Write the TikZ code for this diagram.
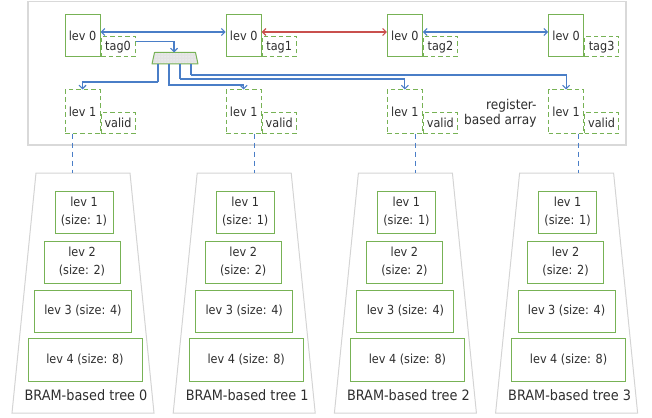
\documentclass[tikz,border=0pt]{standalone}
\usepackage{fontspec}
\setmainfont{DejaVu Sans Condensed}
\usetikzlibrary{arrows.meta,calc,patterns}

\definecolor{boxgreen}{HTML}{77B255}
\definecolor{linkblue}{HTML}{4A7EC7}
\definecolor{linkred}{HTML}{C9504D}
\definecolor{framegray}{HTML}{D9D9D9}
\definecolor{treegray}{HTML}{D4D4D4}
\definecolor{txt}{HTML}{2E2E2E}

\tikzset{
  barb/.tip={Straight Barb[length=3.5pt,width=7pt]},
  lbl/.style={font=\fontsize{12.5}{18}\selectfont, text=txt},
  biglbl/.style={font=\fontsize{14.3}{15}\selectfont, text=txt},
  solidbox/.style={draw=boxgreen, line width=1pt, inner sep=0pt, align=center, lbl},
  dashbox/.style={draw=boxgreen, line width=1pt, dash pattern=on 4.5pt off 3pt, inner sep=0pt, lbl},
  lvzero/.style={solidbox, minimum width=35pt, minimum height=42pt},
  lvone/.style={dashbox, minimum width=35pt, minimum height=43pt},
  flag/.style={dashbox, minimum width=34pt, minimum height=20.5pt, anchor=south west},
  bluelink/.style={draw=linkblue, line width=1.1pt},
  redlink/.style={draw=linkred, line width=1.1pt},
  stub/.style={draw=linkblue, line width=2.2pt},
  droplink/.style={draw=linkblue, line width=1pt, dash pattern=on 5pt off 4pt},
  treeshape/.style={draw=treegray, line width=1pt},
}

\begin{document}
\begin{tikzpicture}[x=1pt,y=-1pt]
\useasboundingbox (0,0) rectangle (652,417);

% register-based array frame
\draw[draw=framegray, line width=1.3pt] (28,1.5) rectangle (626,145);

\foreach \i/\dx in {0/-11,1/10.5,2/10.5,3/11.5}{
  \pgfmathsetmacro{\cx}{83+161.2*\i}
  % register level 0 with its tag, level 1 with its valid bit
  \node[lvzero] (l0\i) at (\cx-0.5,36) {lev 0};
  \node[flag] (tag\i) at (l0\i.south east) {tag\i};
  \node[lvone] (l1\i) at (\cx-0.5,111.5) {lev 1};
  \node[flag] (val\i) at (l1\i.south east) {valid};
  % BRAM-based tree
  \draw[treeshape] (\cx-47,173) -- (\cx+47,173) -- (\cx+71,413) -- (\cx-71,413) -- cycle;
  \coordinate (top\i) at (\cx+\dx,173);
  \node[solidbox, minimum width=58pt, minimum height=42pt] (t1\i) at (\cx+1,212) {lev 1\\(size: 1)};
  \node[solidbox, minimum width=76pt, minimum height=42pt] (t2\i) at (\cx-1,262) {lev 2\\(size: 2)};
  \node[solidbox, minimum width=97pt, minimum height=42pt] (t3\i) at (\cx,311) {lev 3 (size: 4)};
  \node[solidbox, minimum width=114pt, minimum height=43pt] (t4\i) at (\cx+2,359.5) {lev 4 (size: 8)};
  \node[biglbl] (name\i) at (\cx+3,395) {BRAM-based tree \i};
  % register level 1 feeds the tree
  \draw[droplink] (top\i |- l1\i.south) -- (top\i);
}

\node[lbl, font=\fontsize{13.5}{15}\selectfont, align=right, anchor=east] (arr) at (540,113) {register-\\based array};

% tag comparator
\fill[black!11] (154.5,52.5) -- (195.5,52.5) -- (198,64) -- (152,64) -- cycle;
\fill[pattern=dots, pattern color=white] (154.5,52.5) -- (195.5,52.5) -- (198,64) -- (152,64) -- cycle;
\draw[boxgreen, line width=1pt, line join=round] (154.5,52.5) -- (195.5,52.5) -- (198,64) -- (152,64) -- cycle;
\coordinate (muxin) at (174,52.5);
\coordinate (m1) at (158,64);
\coordinate (m2) at (169,64);
\coordinate (m3) at (180,64);
\coordinate (m4) at (191,64);

% links between neighbouring level-0 registers
\draw[bluelink, barb-barb] ([yshift=4pt]l00.east) -- ([yshift=4pt]l01.west);
\draw[redlink, barb-barb] ([yshift=4pt]l01.east) -- ([yshift=4pt]l02.west);
\draw[bluelink, barb-barb] ([yshift=4pt]l02.east) -- ([yshift=4pt]l03.west);

% tag into the comparator
\draw[bluelink, -barb] ([yshift=5pt]tag0.east) -| (muxin);

% comparator outputs to the level-1 registers
\draw[stub] (m1) -- (m1 |- 0,82);
\draw[bluelink, -barb] (m1 |- 0,82) -| (l10.north);
\draw[bluelink, -barb] (m2) |- (0,85 -| l11.north) -- (l11.north);
\draw[stub] (m3) -- (m3 |- 0,79);
\draw[bluelink, -barb] (m3 |- 0,79) -| (l12.north);
\draw[stub] (m4) -- (m4 |- 0,75);
\draw[bluelink, -barb] (m4 |- 0,75) -| (l13.north);
\end{tikzpicture}
\end{document}
